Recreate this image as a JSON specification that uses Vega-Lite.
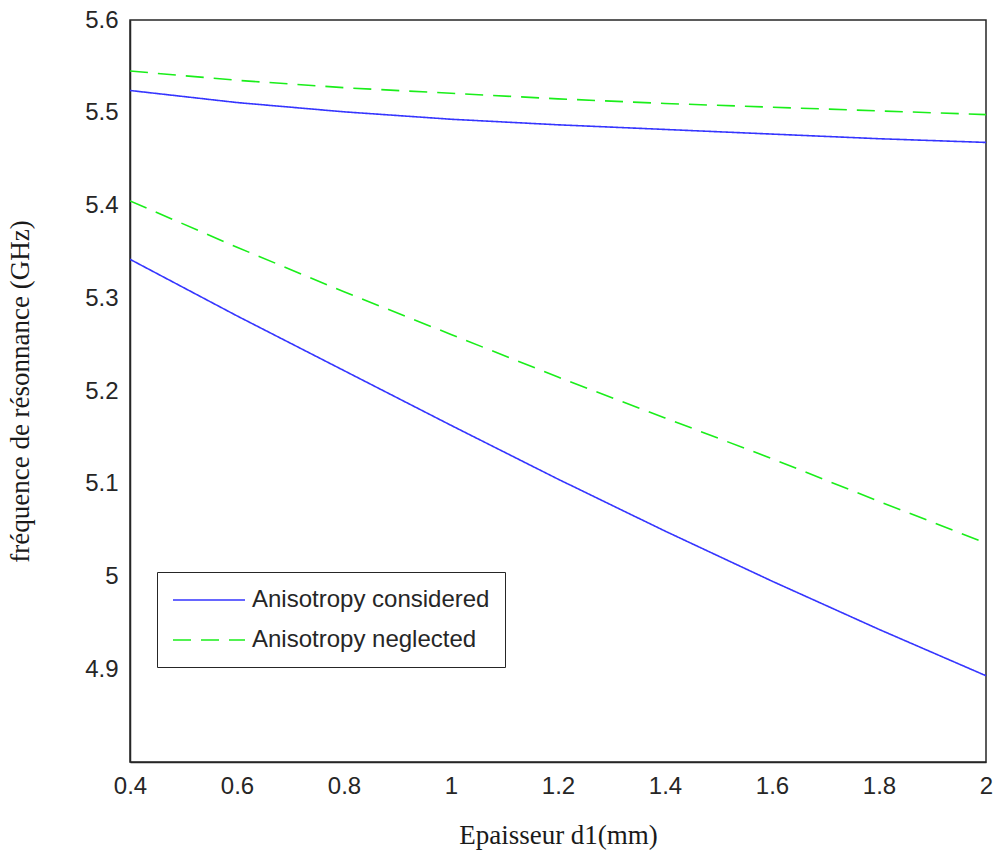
{
  "$schema": "https://vega.github.io/schema/vega-lite/v6.json",
  "width": 856,
  "height": 742,
  "autosize": {"type": "none"},
  "padding": {"left": 130, "top": 20, "right": 13, "bottom": 95},
  "background": "white",
  "config": {
    "view": {"stroke": "#262626", "strokeWidth": 1.5, "fill": null},
    "axis": {
      "domainColor": "#262626",
      "domainWidth": 1.5,
      "ticks": false,
      "grid": false,
      "labelFlush": false,
      "labelFont": "Liberation Sans",
      "labelFontSize": 24,
      "labelColor": "#262626",
      "titleFont": "Liberation Serif",
      "titleFontSize": 27,
      "titleFontWeight": "normal",
      "titleColor": "#1a1a1a"
    }
  },
  "data": {
    "values": [
      {"d": 0.4, "f": 5.524, "curve": "c-high", "series": "Anisotropy considered"},
      {"d": 0.6, "f": 5.511, "curve": "c-high", "series": "Anisotropy considered"},
      {"d": 0.8, "f": 5.501, "curve": "c-high", "series": "Anisotropy considered"},
      {"d": 1.0, "f": 5.493, "curve": "c-high", "series": "Anisotropy considered"},
      {"d": 1.2, "f": 5.487, "curve": "c-high", "series": "Anisotropy considered"},
      {"d": 1.4, "f": 5.482, "curve": "c-high", "series": "Anisotropy considered"},
      {"d": 1.6, "f": 5.477, "curve": "c-high", "series": "Anisotropy considered"},
      {"d": 1.8, "f": 5.472, "curve": "c-high", "series": "Anisotropy considered"},
      {"d": 2.0, "f": 5.468, "curve": "c-high", "series": "Anisotropy considered"},
      {"d": 0.4, "f": 5.342, "curve": "c-low", "series": "Anisotropy considered"},
      {"d": 0.6, "f": 5.281, "curve": "c-low", "series": "Anisotropy considered"},
      {"d": 0.8, "f": 5.222, "curve": "c-low", "series": "Anisotropy considered"},
      {"d": 1.0, "f": 5.163, "curve": "c-low", "series": "Anisotropy considered"},
      {"d": 1.2, "f": 5.105, "curve": "c-low", "series": "Anisotropy considered"},
      {"d": 1.4, "f": 5.049, "curve": "c-low", "series": "Anisotropy considered"},
      {"d": 1.6, "f": 4.995, "curve": "c-low", "series": "Anisotropy considered"},
      {"d": 1.8, "f": 4.943, "curve": "c-low", "series": "Anisotropy considered"},
      {"d": 2.0, "f": 4.893, "curve": "c-low", "series": "Anisotropy considered"},
      {"d": 0.4, "f": 5.545, "curve": "n-high", "series": "Anisotropy neglected"},
      {"d": 0.6, "f": 5.535, "curve": "n-high", "series": "Anisotropy neglected"},
      {"d": 0.8, "f": 5.527, "curve": "n-high", "series": "Anisotropy neglected"},
      {"d": 1.0, "f": 5.521, "curve": "n-high", "series": "Anisotropy neglected"},
      {"d": 1.2, "f": 5.515, "curve": "n-high", "series": "Anisotropy neglected"},
      {"d": 1.4, "f": 5.510, "curve": "n-high", "series": "Anisotropy neglected"},
      {"d": 1.6, "f": 5.506, "curve": "n-high", "series": "Anisotropy neglected"},
      {"d": 1.8, "f": 5.502, "curve": "n-high", "series": "Anisotropy neglected"},
      {"d": 2.0, "f": 5.498, "curve": "n-high", "series": "Anisotropy neglected"},
      {"d": 0.4, "f": 5.405, "curve": "n-low", "series": "Anisotropy neglected"},
      {"d": 0.6, "f": 5.355, "curve": "n-low", "series": "Anisotropy neglected"},
      {"d": 0.8, "f": 5.307, "curve": "n-low", "series": "Anisotropy neglected"},
      {"d": 1.0, "f": 5.261, "curve": "n-low", "series": "Anisotropy neglected"},
      {"d": 1.2, "f": 5.215, "curve": "n-low", "series": "Anisotropy neglected"},
      {"d": 1.4, "f": 5.171, "curve": "n-low", "series": "Anisotropy neglected"},
      {"d": 1.6, "f": 5.127, "curve": "n-low", "series": "Anisotropy neglected"},
      {"d": 1.8, "f": 5.081, "curve": "n-low", "series": "Anisotropy neglected"},
      {"d": 2.0, "f": 5.036, "curve": "n-low", "series": "Anisotropy neglected"}
    ]
  },
  "mark": {"type": "line", "strokeWidth": 1.6, "clip": true},
  "encoding": {
    "x": {
      "field": "d", "type": "quantitative",
      "scale": {"domain": [0.4, 2], "nice": false, "zero": false},
      "axis": {
        "orient": "bottom",
        "title": "Epaisseur d1(mm)",
        "values": [0.4, 0.6, 0.8, 1, 1.2, 1.4, 1.6, 1.8, 2],
        "labelExpr": "format(datum.value, '~g')",
        "labelPadding": 12,
        "titlePadding": 24
      }
    },
    "y": {
      "field": "f", "type": "quantitative",
      "scale": {"domain": [4.8, 5.6], "nice": false, "zero": false},
      "axis": {
        "orient": "left",
        "title": "fréquence de résonnance (GHz)",
        "values": [4.9, 5, 5.1, 5.2, 5.3, 5.4, 5.5, 5.6],
        "labelExpr": "format(datum.value, '~g')",
        "labelPadding": 12,
        "titlePadding": 50
      }
    },
    "detail": {"field": "curve"},
    "color": {
      "field": "series", "type": "nominal",
      "scale": {"domain": ["Anisotropy considered", "Anisotropy neglected"], "range": ["#3535ff", "#1aee1a"]},
      "legend": {
        "title": null,
        "orient": "none",
        "legendX": 27,
        "legendY": 552,
        "direction": "vertical",
        "fillColor": "white",
        "strokeColor": "#262626",
        "padding": 15,
        "symbolType": "M-3,0H3",
        "symbolSize": 576,
        "symbolOffset": 24,
        "symbolStrokeWidth": 1.6,
        "labelFont": "Liberation Sans",
        "labelFontSize": 24,
        "labelColor": "#262626",
        "labelLimit": 500,
        "labelOffset": 30,
        "rowPadding": 15
      }
    },
    "strokeDash": {
      "field": "series", "type": "nominal",
      "scale": {"domain": ["Anisotropy considered", "Anisotropy neglected"], "range": [[1, 0], [18, 10]]},
      "legend": null
    }
  }
}
